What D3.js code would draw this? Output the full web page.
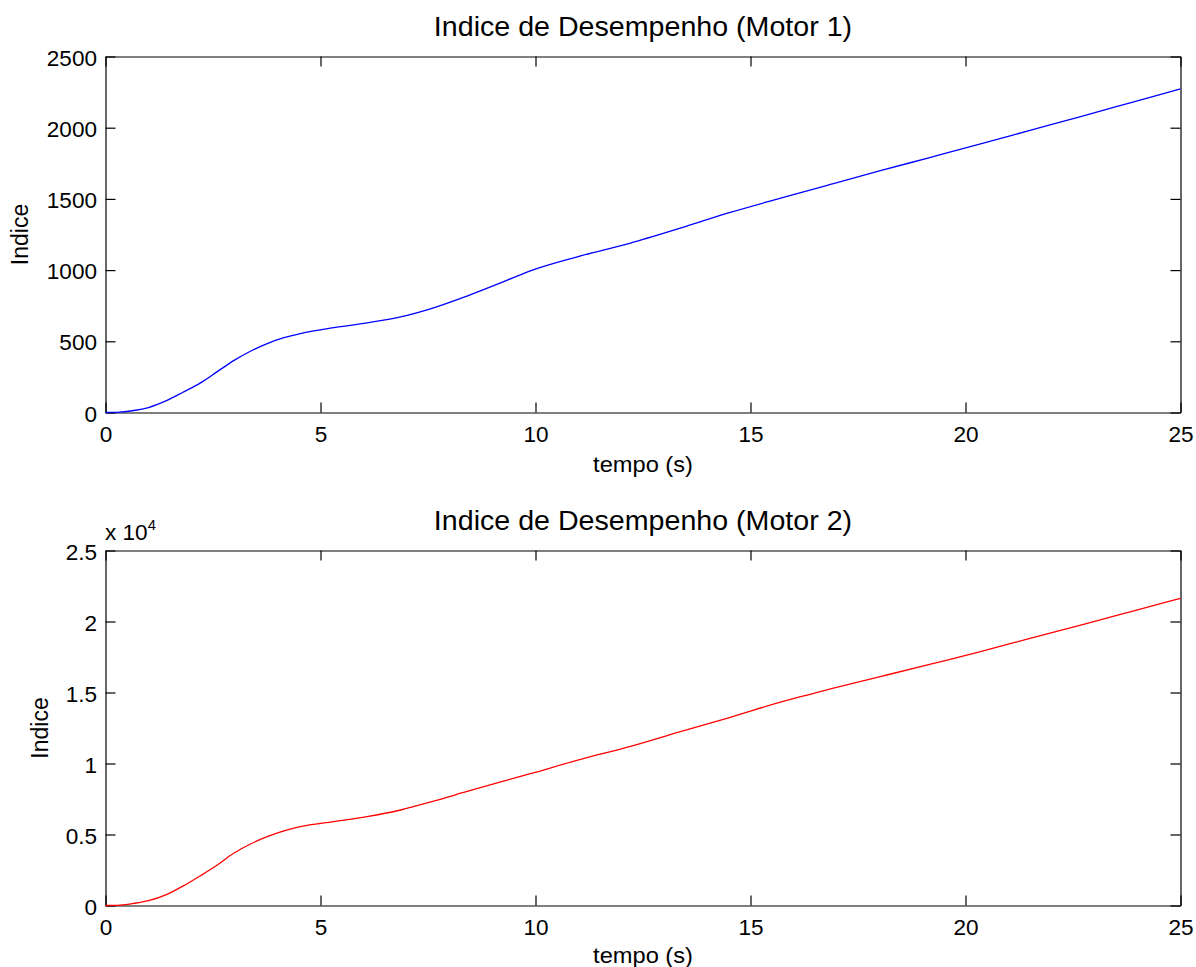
<!DOCTYPE html>
<html>
<head>
<meta charset="utf-8">
<script src="https://cdn.jsdelivr.net/npm/d3@7"></script>
<style>
  html, body { margin: 0; padding: 0; background: #fff; }
  svg { display: block; }
  text { font-family: "Liberation Sans", Arial, Helvetica, sans-serif; fill: #000; }
</style>
</head>
<body>
<svg id="fig" width="1196" height="967"></svg>
<script>
// Sample times (s) of the performance index
const timeSeconds = [0, 0.33, 0.66, 1.0, 1.43, 1.8, 2.21, 2.6, 2.98, 3.37, 3.76, 4.15, 4.53,
  5.31, 6.08, 6.86, 7.63, 8.41, 9.19, 9.88, 11.05, 12.21, 13.37, 14.53, 15.7, 16.86,
  18.02, 19.19, 20.35, 21.5, 22.7, 23.85, 25];

// Performance index, motor 1
const motor1Index = [0, 3, 14, 35, 85, 142, 208, 287, 364, 430, 484, 525, 554,
  596, 629, 671, 735, 818, 910, 995, 1100, 1190, 1295, 1405, 1505, 1602,
  1698, 1792, 1886, 1981, 2080, 2176, 2272];

// Performance index, motor 2
const motor2Index = [0, 30, 150, 340, 790, 1360, 2100, 2850, 3676, 4330, 4845, 5250, 5550,
  5901, 6254, 6725, 7350, 8030, 8700, 9280, 10296, 11200, 12239, 13254, 14320, 15250,
  16120, 17000, 17880, 18810, 19770, 20700, 21634];

const xTicks = [0, 5, 10, 15, 20, 25];
const yTicks1 = [0, 500, 1000, 1500, 2000, 2500];
const yTicks2 = [0, 5000, 10000, 15000, 20000, 25000];
const yTickLabels2 = ["0", "0.5", "1", "1.5", "2", "2.5"];
const titles = ["Indice de Desempenho (Motor 1)", "Indice de Desempenho (Motor 2)"];
const xLabel = "tempo (s)";
const yLabel = "Indice";
const exponentLabel = "x 10";
const exponentPower = "4";

const svg = d3.select("#fig");
const SX = 1.06;           // horizontal text stretch
const TICK_FS = 21.3, LABEL_FS = 22.3, TITLE_FS = 27;
const left = 105.5, right = 1180.5;

const panels = [
  { top: 56.5, bottom: 412.5, values: motor1Index, domain: [0, 2500], ticks: yTicks1,
    fmt: d => String(d), color: "#0000ff", title: titles[0], yLabelX: 28, xLabelY: 472 },
  { top: 550.5, bottom: 905.5, values: motor2Index, domain: [0, 25000], ticks: yTicks2,
    fmt: d => yTickLabels2[yTicks2.indexOf(d)], color: "#ff0000", title: titles[1], yLabelX: 48,
    xLabelY: 963, exponent: true }
];

function styleAxis(g) {
  g.select(".domain").attr("stroke", "#000").attr("stroke-width", 1.2);
  g.selectAll(".tick line").attr("stroke", "#000").attr("stroke-width", 1.2);
}

panels.forEach(p => {
  const x = d3.scaleLinear().domain([0, 25]).range([left, right]);
  const y = d3.scaleLinear().domain(p.domain).range([p.bottom, p.top]);
  const g = svg.append("g");

  // Bottom axis with labels
  const gx = g.append("g").attr("transform", `translate(0,${p.bottom})`)
    .call(d3.axisBottom(x).tickValues(xTicks).tickSizeInner(-10).tickSizeOuter(0).tickFormat(d3.format("d")));
  styleAxis(gx);
  gx.selectAll(".tick text").attr("y", 30).attr("dy", null)
    .attr("transform", `scale(${SX},1)`).style("font-size", TICK_FS + "px").attr("font-family", null);

  // Top mirror axis
  const gxt = g.append("g").attr("transform", `translate(0,${p.top})`)
    .call(d3.axisTop(x).tickValues(xTicks).tickSizeInner(-10).tickSizeOuter(0).tickFormat(""));
  styleAxis(gxt);

  // Left axis with labels
  const gy = g.append("g").attr("transform", `translate(${left},0)`)
    .call(d3.axisLeft(y).tickValues(p.ticks).tickSizeInner(-10).tickSizeOuter(0).tickFormat(p.fmt));
  styleAxis(gy);
  gy.selectAll(".tick text").attr("x", -8.5 / SX).attr("dy", null).attr("y", 8.5)
    .attr("transform", `scale(${SX},1)`).style("font-size", TICK_FS + "px").attr("font-family", null);

  // Right mirror axis
  const gyr = g.append("g").attr("transform", `translate(${right},0)`)
    .call(d3.axisRight(y).tickValues(p.ticks).tickSizeInner(-10).tickSizeOuter(0).tickFormat(""));
  styleAxis(gyr);

  // Data line
  const line = d3.line()
    .x((d, i) => x(timeSeconds[i]))
    .y(d => y(d))
    .curve(d3.curveMonotoneX);
  g.append("path").datum(p.values)
    .attr("d", line)
    .attr("fill", "none")
    .attr("stroke", p.color)
    .attr("stroke-width", 1.3);

  // Title
  g.append("text")
    .attr("transform", `translate(${(left + right) / 2},${p.top - 21}) scale(${SX},1)`)
    .attr("text-anchor", "middle")
    .style("font-size", TITLE_FS + "px")
    .text(p.title);

  // X label
  g.append("text")
    .attr("transform", `translate(${(left + right) / 2},${p.xLabelY}) scale(${SX},1)`)
    .attr("text-anchor", "middle")
    .style("font-size", LABEL_FS + "px")
    .text(xLabel);

  // Y label
  g.append("text")
    .attr("transform", `translate(${p.yLabelX},${(p.top + p.bottom) / 2}) rotate(-90)`)
    .attr("text-anchor", "middle")
    .style("font-size", "23px")
    .text(yLabel);

  // Exponent multiplier
  if (p.exponent) {
    const t = g.append("text")
      .attr("transform", `translate(${left - 0.5},${p.top - 10.5}) scale(${SX},1)`)
      .style("font-size", TICK_FS + "px");
    t.append("tspan").text(exponentLabel);
    t.append("tspan").attr("dy", -10).style("font-size", "14px").text(exponentPower);
  }
});
</script>
</body>
</html>
